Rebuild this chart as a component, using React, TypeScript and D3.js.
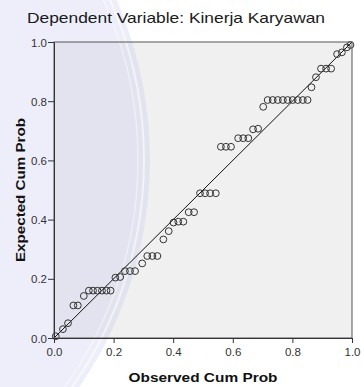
import { useEffect, useRef } from 'react';
import * as d3 from 'd3';

// P-P plot of regression standardized residual
const observedCumProb = [
  0.006, 0.03, 0.047, 0.065, 0.08, 0.1, 0.117, 0.131, 0.146, 0.161, 0.176, 0.19,
  0.206, 0.222, 0.238, 0.255, 0.272, 0.296, 0.313, 0.33, 0.347, 0.367, 0.385,
  0.401, 0.417, 0.434, 0.452, 0.47, 0.49, 0.507, 0.524, 0.543, 0.56, 0.577,
  0.594, 0.618, 0.635, 0.652, 0.668, 0.685, 0.702, 0.717, 0.734, 0.751, 0.768,
  0.784, 0.801, 0.818, 0.835, 0.851, 0.864, 0.879, 0.896, 0.913, 0.93, 0.95,
  0.966, 0.983, 0.995,
];

const expectedCumProb = [
  0.006, 0.03, 0.05, 0.11, 0.11, 0.142, 0.16, 0.16, 0.16, 0.16, 0.16, 0.16,
  0.204, 0.206, 0.226, 0.226, 0.226, 0.252, 0.277, 0.277, 0.277, 0.333, 0.361,
  0.39, 0.393, 0.393, 0.425, 0.425, 0.489, 0.489, 0.489, 0.489, 0.646, 0.646,
  0.646, 0.675, 0.675, 0.675, 0.705, 0.707, 0.781, 0.804, 0.804, 0.804, 0.804,
  0.804, 0.804, 0.804, 0.804, 0.804, 0.847, 0.881, 0.91, 0.91, 0.91, 0.959,
  0.965, 0.982, 0.99,
];

const ticks = [0, 0.2, 0.4, 0.6, 0.8, 1.0];

const title = 'Dependent Variable: Kinerja Karyawan';
const xTitle = 'Observed Cum Prob';
const yTitle = 'Expected Cum Prob';

const App = () => {
  const svgRef = useRef<SVGSVGElement>(null);

  useEffect(() => {
    const width = 364;
    const height = 387;
    const margin = { top: 42, right: 12, bottom: 49, left: 54 };
    const font = '"Liberation Sans", Arial, sans-serif';

    const svg = d3.select(svgRef.current);
    svg.selectAll('*').remove();
    svg.attr('width', width).attr('height', height).attr('viewBox', [0, 0, width, height]);

    const x = d3.scaleLinear([0, 1], [margin.left, width - margin.right]);
    const y = d3.scaleLinear([0, 1], [height - margin.bottom, margin.top]);

    // white page + grey plot area
    svg.append('rect').attr('width', width).attr('height', height).attr('fill', '#fff');
    svg
      .append('rect')
      .attr('x', x(0))
      .attr('y', y(1))
      .attr('width', x(1) - x(0))
      .attr('height', y(0) - y(1))
      .attr('fill', '#f0f0f0');

    // faint watermark on the left
    const wm = svg.append('g').attr('pointer-events', 'none');
    wm.append('circle')
      .attr('cx', -250)
      .attr('cy', 160)
      .attr('r', 400)
      .attr('fill', 'rgb(195,195,240)')
      .attr('fill-opacity', 0.28);
    wm.append('circle')
      .attr('cx', -250)
      .attr('cy', 160)
      .attr('r', 394)
      .attr('fill', 'none')
      .attr('stroke', '#fff')
      .attr('stroke-opacity', 0.55)
      .attr('stroke-width', 2);
    wm.append('circle')
      .attr('cx', -250)
      .attr('cy', 160)
      .attr('r', 388)
      .attr('fill', 'none')
      .attr('stroke', '#fff')
      .attr('stroke-opacity', 0.4)
      .attr('stroke-width', 1.5);

    // title
    svg
      .append('text')
      .attr('x', 176)
      .attr('y', 22.5)
      .attr('text-anchor', 'middle')
      .attr('font-family', font)
      .attr('font-size', 14.5)
      .attr('textLength', 298)
      .attr('lengthAdjust', 'spacingAndGlyphs')
      .attr('fill', '#1a1a1a')
      .text(title);

    // reference line
    svg
      .append('line')
      .attr('x1', x(0))
      .attr('y1', y(0))
      .attr('x2', x(1))
      .attr('y2', y(1))
      .attr('stroke', '#111')
      .attr('stroke-width', 1);

    // points
    svg
      .append('g')
      .selectAll('circle')
      .data(d3.zip(observedCumProb, expectedCumProb))
      .join('circle')
      .attr('cx', (d) => x(d[0]))
      .attr('cy', (d) => y(d[1]))
      .attr('r', 3.4)
      .attr('fill', 'none')
      .attr('stroke', '#333')
      .attr('stroke-width', 1);

    // frame
    svg
      .append('rect')
      .attr('x', x(0))
      .attr('y', y(1))
      .attr('width', x(1) - x(0))
      .attr('height', y(0) - y(1))
      .attr('fill', 'none')
      .attr('stroke', '#555')
      .attr('stroke-width', 1);

    const fmt = d3.format('.1f');

    const xAxis = svg
      .append('g')
      .attr('transform', `translate(0,${y(0)})`)
      .call(d3.axisBottom(x).tickValues(ticks).tickFormat((d) => fmt(d as number)).tickSize(5).tickSizeOuter(0));
    const yAxis = svg
      .append('g')
      .attr('transform', `translate(${x(0)},0)`)
      .call(d3.axisLeft(y).tickValues(ticks).tickFormat((d) => fmt(d as number)).tickSize(6).tickSizeOuter(0));

    [xAxis, yAxis].forEach((g) => {
      g.select('.domain').attr('stroke', '#333');
      g.selectAll('.tick line').attr('stroke', '#333');
      g.selectAll('.tick text')
        .attr('font-family', font)
        .attr('font-size', 11.5)
        .attr('fill', '#333');
    });
    xAxis.selectAll('.tick text').attr('y', 8).attr('dy', '0.9em');
    yAxis.selectAll('.tick text').attr('x', -7).attr('dy', '0.35em');

    // axis titles
    svg
      .append('text')
      .attr('x', (x(0) + x(1)) / 2)
      .attr('y', 381.5)
      .attr('text-anchor', 'middle')
      .attr('font-family', font)
      .attr('font-weight', 'bold')
      .attr('font-size', 13.5)
      .attr('textLength', 149)
      .attr('lengthAdjust', 'spacingAndGlyphs')
      .attr('fill', '#111')
      .text(xTitle);

    svg
      .append('text')
      .attr('transform', `translate(25,190) rotate(-90)`)
      .attr('text-anchor', 'middle')
      .attr('font-family', font)
      .attr('font-weight', 'bold')
      .attr('font-size', 13.5)
      .attr('textLength', 144)
      .attr('lengthAdjust', 'spacingAndGlyphs')
      .attr('fill', '#111')
      .text(yTitle);
  }, []);

  return (
    <svg
      ref={svgRef}
      style={{ position: 'absolute', left: 0, top: 0, display: 'block' }}
    ></svg>
  );
};

export default App;
